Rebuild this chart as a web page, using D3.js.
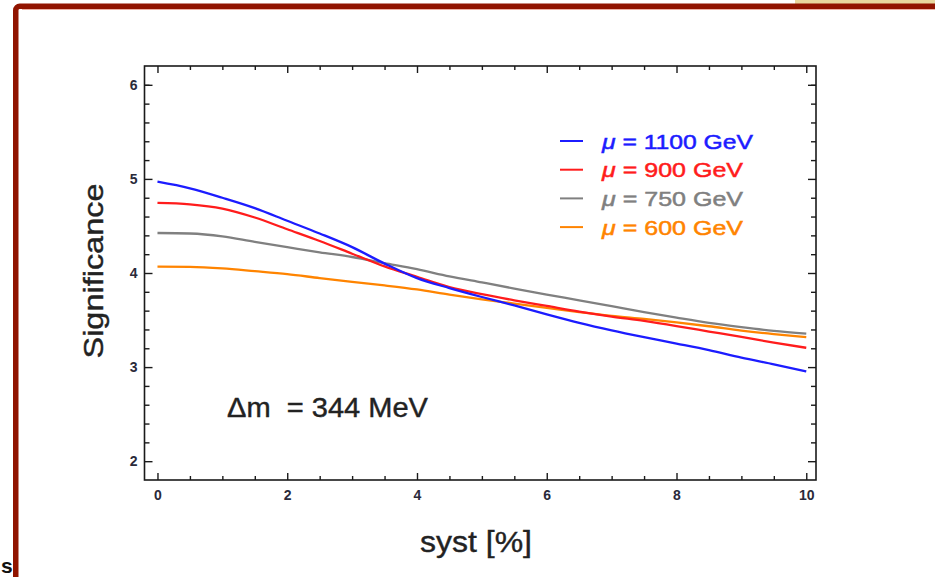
<!DOCTYPE html>
<html>
<head>
<meta charset="utf-8">
<script src="https://cdn.jsdelivr.net/npm/d3@7/dist/d3.min.js"></script>
<style>
  html, body { margin: 0; padding: 0; background: #fff; }
  svg { display: block; }
  text { font-family: "Liberation Sans", Arial, Helvetica, sans-serif; }
</style>
</head>
<body>
<svg id="chart" width="935" height="577"></svg>
<script>
// Systematic uncertainty in percent
const syst = [0, 0.5, 1, 1.5, 2, 2.5, 3, 3.5, 4, 4.5, 5, 5.5, 6, 6.5, 7, 7.5, 8, 8.5, 9, 9.5, 10];

// Significance for each mass hypothesis
const sig1100 = [4.97, 4.90, 4.80, 4.69, 4.555, 4.42, 4.275, 4.10, 3.945, 3.84, 3.745, 3.655, 3.56, 3.47, 3.39, 3.318, 3.25, 3.18, 3.10, 3.03, 2.955];
const sig900  = [4.745, 4.73, 4.685, 4.59, 4.465, 4.34, 4.205, 4.07, 3.96, 3.85, 3.775, 3.71, 3.65, 3.59, 3.537, 3.49, 3.436, 3.378, 3.32, 3.26, 3.205];
const sig750  = [4.425, 4.42, 4.39, 4.33, 4.275, 4.22, 4.17, 4.105, 4.04, 3.965, 3.90, 3.835, 3.77, 3.71, 3.647, 3.583, 3.525, 3.47, 3.425, 3.385, 3.355];
const sig600  = [4.068, 4.066, 4.05, 4.02, 3.988, 3.946, 3.906, 3.868, 3.825, 3.77, 3.72, 3.675, 3.63, 3.585, 3.545, 3.512, 3.476, 3.434, 3.388, 3.35, 3.318];

const seriesNames  = ["1100", "900", "750", "600"];
const seriesValues = [sig1100, sig900, sig750, sig600];
const seriesColors = ["#1c1cff", "#ff1c1c", "#808080", "#ff8400"];

const xMajorTicks = [0, 2, 4, 6, 8, 10];
const xMinorTicks = [0.5, 1, 1.5, 2.5, 3, 3.5, 4.5, 5, 5.5, 6.5, 7, 7.5, 8.5, 9, 9.5];
const yMajorTicks = [2, 3, 4, 5, 6];
const yMinorTicks = [2.2, 2.4, 2.6, 2.8, 3.2, 3.4, 3.6, 3.8, 4.2, 4.4, 4.6, 4.8, 5.2, 5.4, 5.6, 5.8, 6.0];

const svg = d3.select("#chart");

// slide frame
svg.append("rect").attr("x", 795).attr("y", 0).attr("width", 140).attr("height", 4)
  .attr("fill", "#e8d79e");
svg.append("rect")
  .attr("x", 15.75).attr("y", 6.25).attr("width", 1000).attr("height", 1000).attr("rx", 4)
  .attr("fill", "none").attr("stroke", "#911400").attr("stroke-width", 5.5);
svg.append("line").attr("x1", 22).attr("x2", 935).attr("y1", 9.5).attr("y2", 9.5)
  .attr("stroke", "#eeb0a4").attr("stroke-width", 1);
svg.append("text").attr("x", 1).attr("y", 573).attr("font-size", 21).attr("font-weight", "bold")
  .attr("fill", "#111").text("s");

// plot area
const plotLeft = 144.5, plotRight = 816, plotTop = 66, plotBottom = 480;
const x = d3.scaleLinear().domain([-0.2, 10.15]).range([plotLeft, plotRight]);
const y = d3.scaleLinear().domain([1.8, 6.2]).range([plotBottom, plotTop]);

const tickColor = "#1a1a1a";
const labelColor = "#2a2a3a";

function styleAxis(g) {
  g.select(".domain").remove();
  g.selectAll(".tick line").attr("stroke", tickColor).attr("stroke-width", 1.4);
  g.selectAll(".tick text").attr("fill", labelColor).attr("font-size", 14)
    .attr("font-weight", "bold").attr("font-family", "'Liberation Sans', Arial, sans-serif");
}

// bottom
svg.append("g").attr("transform", `translate(0,${plotBottom})`)
  .call(d3.axisBottom(x).tickValues(xMajorTicks).tickSize(-7).tickPadding(10).tickFormat(d3.format("d")))
  .call(styleAxis);
svg.append("g").attr("transform", `translate(0,${plotBottom})`)
  .call(d3.axisBottom(x).tickValues(xMinorTicks).tickSize(-4).tickFormat(""))
  .call(styleAxis);
// top
svg.append("g").attr("transform", `translate(0,${plotTop})`)
  .call(d3.axisTop(x).tickValues(xMajorTicks).tickSize(-7).tickFormat(""))
  .call(styleAxis);
svg.append("g").attr("transform", `translate(0,${plotTop})`)
  .call(d3.axisTop(x).tickValues(xMinorTicks).tickSize(-4).tickFormat(""))
  .call(styleAxis);
// left
svg.append("g").attr("transform", `translate(${plotLeft},0)`)
  .call(d3.axisLeft(y).tickValues(yMajorTicks).tickSize(-8).tickPadding(7).tickFormat(d3.format("d")))
  .call(styleAxis);
svg.append("g").attr("transform", `translate(${plotLeft},0)`)
  .call(d3.axisLeft(y).tickValues(yMinorTicks).tickSize(-5).tickFormat(""))
  .call(styleAxis);
// right
svg.append("g").attr("transform", `translate(${plotRight},0)`)
  .call(d3.axisRight(y).tickValues(yMajorTicks).tickSize(-8).tickFormat(""))
  .call(styleAxis);
svg.append("g").attr("transform", `translate(${plotRight},0)`)
  .call(d3.axisRight(y).tickValues(yMinorTicks).tickSize(-5).tickFormat(""))
  .call(styleAxis);

// frame
svg.append("rect").attr("x", plotLeft).attr("y", plotTop)
  .attr("width", plotRight - plotLeft).attr("height", plotBottom - plotTop)
  .attr("fill", "none").attr("stroke", tickColor).attr("stroke-width", 1.6);

// curves
const line = d3.line()
  .x((d, i) => x(syst[i]))
  .y(d => y(d))
  .curve(d3.curveMonotoneX);

// draw lowest-mass curve first so higher ones sit on top
for (let k = seriesValues.length - 1; k >= 0; k--) {
  svg.append("path").datum(seriesValues[k])
    .attr("d", line)
    .attr("fill", "none")
    .attr("stroke", seriesColors[k])
    .attr("stroke-width", 2.3)
    .attr("stroke-linejoin", "round");
}

// legend
const legY0 = 141, legDy = 28.7;
const legWidths = [151, 141, 141, 141];
seriesNames.forEach((name, i) => {
  const yy = legY0 + i * legDy;
  svg.append("line").attr("x1", 560).attr("x2", 583).attr("y1", yy).attr("y2", yy)
    .attr("stroke", seriesColors[i]).attr("stroke-width", 2);
  const t = svg.append("text").attr("x", 602).attr("y", yy + 7.5)
    .attr("font-size", 21).attr("fill", seriesColors[i])
    .attr("stroke", seriesColors[i]).attr("stroke-width", 0.5)
    .attr("textLength", legWidths[i]).attr("lengthAdjust", "spacingAndGlyphs");
  t.append("tspan").attr("font-style", "italic").text("\u03bc");
  t.append("tspan").text(` = ${name} GeV`);
});

// mass splitting label
svg.append("text").attr("x", 227).attr("y", 417).attr("font-size", 27).attr("fill", "#222")
  .attr("stroke", "#222").attr("stroke-width", 0.4)
  .attr("xml:space", "preserve").attr("textLength", 201).attr("lengthAdjust", "spacingAndGlyphs")
  .text("\u0394m  = 344 MeV");

// axis titles
svg.append("text").attr("x", 476).attr("y", 552).attr("text-anchor", "middle")
  .attr("font-size", 30).attr("fill", "#222").attr("stroke", "#222").attr("stroke-width", 0.4)
  .attr("textLength", 112).attr("lengthAdjust", "spacingAndGlyphs").text("syst [%]");
svg.append("text").attr("transform", "translate(103,271) rotate(-90)").attr("text-anchor", "middle")
  .attr("font-size", 27).attr("fill", "#222").attr("stroke", "#222").attr("stroke-width", 0.4)
  .attr("textLength", 175).attr("lengthAdjust", "spacingAndGlyphs").text("Significance");
</script>
</body>
</html>
